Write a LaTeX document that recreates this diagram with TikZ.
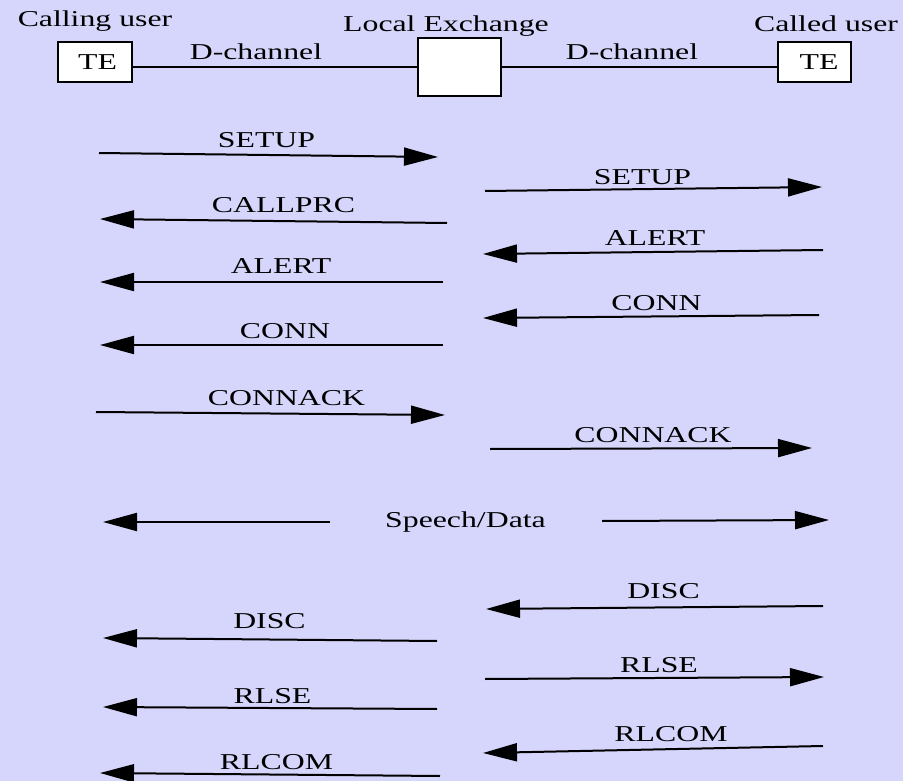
\documentclass[tikz,border=0pt]{standalone}
\usepackage{fontspec}
\setmainfont[FakeStretch=1.4]{Liberation Serif}
\usetikzlibrary{arrows.meta}
\definecolor{bgpanel}{RGB}{214,214,252}
\tikzset{
  lbl/.style={anchor=base, inner sep=0pt, font=\fontsize{22.7}{27}\selectfont},
  tebox/.style={draw, line width=2pt, fill=white, minimum width=74pt, minimum height=40pt, inner sep=0pt},
  link/.style={line width=2pt},
  msg/.style={line width=2pt, -{Triangle[length=34pt,width=18pt]}}
}
\begin{document}
\begin{tikzpicture}[x=1pt,y=-1pt]
  \fill[bgpanel] (0,0) rectangle (903,781);
  \useasboundingbox (0,0) rectangle (903,781);

  % parties and exchange
  \node[lbl] (callingL) at (95,27) {Calling user};
  \node[lbl] (exL) at (446,32) {Local Exchange};
  \node[lbl] (calledL) at (826,32) {Called user};
  \node[tebox] (te1) at (95,62) {};
  \node[lbl] at (97.5,70) {TE};
  \node[tebox, minimum width=83pt, minimum height=58pt] (ex) at (459.5,67) {};
  \node[tebox, minimum width=73pt] (te2) at (814.5,62.5) {};
  \node[lbl] at (819,70) {TE};
  \draw[link] (te1.east |- ex.west) -- (ex.west);
  \draw[link] (ex.east) -- (te2.west |- ex.east);
  \node[lbl] (dch1) at (256,60) {D-channel};
  \node[lbl] (dch2) at (632,60) {D-channel};

  % message end points
  \coordinate (a1) at (99,153);  \coordinate (b1) at (438,157);
  \coordinate (a2) at (447,223); \coordinate (b2) at (100,219);
  \coordinate (a3) at (443,282); \coordinate (b3) at (100,282);
  \coordinate (a4) at (443,345); \coordinate (b4) at (100,345);
  \coordinate (a5) at (96,412);  \coordinate (b5) at (445,415);
  \coordinate (a6) at (485,191); \coordinate (b6) at (822,187);
  \coordinate (a7) at (823,250); \coordinate (b7) at (483,254);
  \coordinate (a8) at (819,315); \coordinate (b8) at (483,318);
  \coordinate (a9) at (490,449); \coordinate (b9) at (812,448);
  \coordinate (a10) at (330,522); \coordinate (b10) at (103,522);
  \coordinate (a11) at (602,521); \coordinate (b11) at (829,520);
  \coordinate (a12) at (823,606); \coordinate (b12) at (486,609);
  \coordinate (a13) at (437,641); \coordinate (b13) at (103,638);
  \coordinate (a14) at (485,679); \coordinate (b14) at (824,677);
  \coordinate (a15) at (437,709); \coordinate (b15) at (103,707);
  \coordinate (a16) at (823,746); \coordinate (b16) at (483,753);
  \coordinate (a17) at (440,776); \coordinate (b17) at (100,773);

  \foreach \i in {1,...,17} { \draw[msg] (a\i) -- (b\i); }

  % message labels
  \node[lbl] at (266.5,148) {SETUP};
  \node[lbl] at (283.5,213) {CALLPRC};
  \node[lbl] at (281,273) {ALERT};
  \node[lbl] at (285,338) {CONN};
  \node[lbl] at (286.5,405) {CONNACK};
  \node[lbl] at (642.5,185) {SETUP};
  \node[lbl] at (655,245) {ALERT};
  \node[lbl] at (656.5,310) {CONN};
  \node[lbl] at (653,442) {CONNACK};
  \node[lbl] (speech) at (465.5,527) {Speech/Data};
  \node[lbl] at (663.5,598) {DISC};
  \node[lbl] at (269.5,628) {DISC};
  \node[lbl] at (659,672) {RLSE};
  \node[lbl] at (272.5,703) {RLSE};
  \node[lbl] at (671,741) {RLCOM};
  \node[lbl] at (276.5,769) {RLCOM};
\end{tikzpicture}
\end{document}
